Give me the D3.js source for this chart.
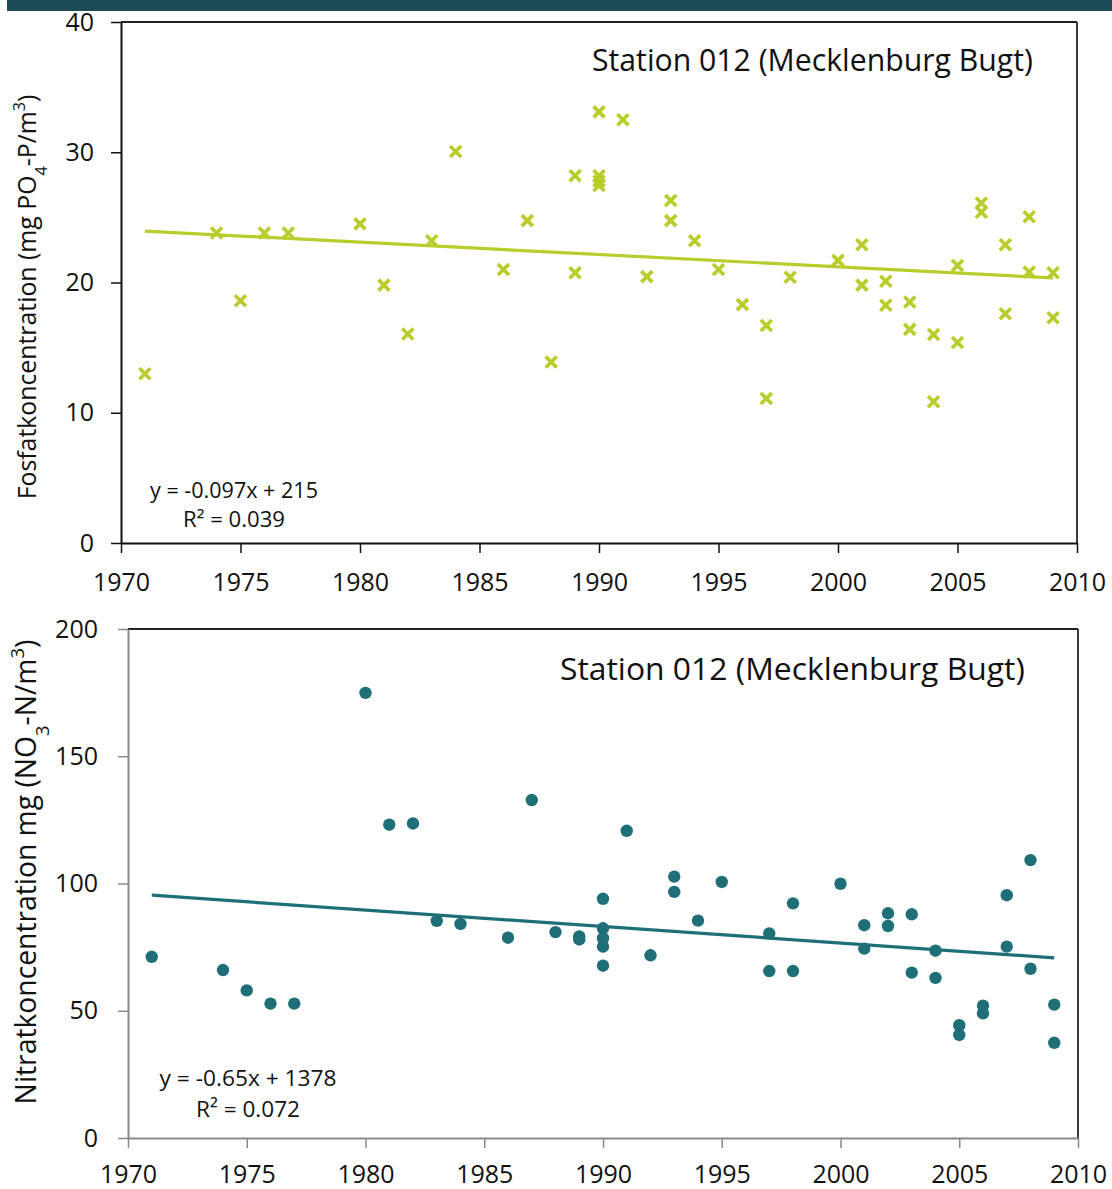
<!DOCTYPE html>
<html><head><meta charset="utf-8">
<script src="https://cdn.jsdelivr.net/npm/d3@7"></script>
<style>
body{margin:0;background:#fff;}
svg{display:block;}
text{font-family:"Open Sans",sans-serif;fill:#111;}
</style>
</head><body>
<svg id="chart" width="1112" height="1189"></svg>
<script>
// ---------- data ----------
const yearTicks = [1970, 1975, 1980, 1985, 1990, 1995, 2000, 2005, 2010];

const phosYears  = [1971,1974,1975,1976,1977,1980,1981,1982,1983,1984,1986,1987,1988,1989,1989,
                    1990,1990,1990,1990,1991,1992,1993,1993,1994,1995,1996,1997,1997,1998,2000,
                    2001,2001,2002,2002,2003,2003,2004,2004,2005,2005,2006,2006,2007,2007,2008,2008,2009,2009];
const phosValues = [13.0,23.8,18.6,23.8,23.8,24.5,19.8,16.05,23.2,30.05,21.0,24.75,13.9,28.2,20.75,
                    33.1,28.2,27.8,27.45,32.5,20.45,26.3,24.75,23.2,21.0,18.3,16.7,11.1,20.4,21.7,
                    22.9,19.8,20.1,18.25,18.5,16.4,16.0,10.85,21.3,15.4,26.1,25.4,22.9,17.6,25.05,20.8,20.75,17.3];
const phosTicks = [0, 10, 20, 30, 40];
const phosTrendYears  = [1971, 2009];
const phosTrendValues = [23.95, 20.35];
const phosEquation = ["y = -0.097x + 215", "R² = 0.039"];

const nitYears  = [1971,1974,1975,1976,1977,1980,1981,1982,1983,1984,1986,1987,1988,1989,1989,
                   1990,1990,1990,1990,1990,1991,1992,1993,1993,1994,1995,1997,1997,1998,1998,
                   2000,2001,2001,2002,2002,2003,2003,2004,2004,2005,2005,2006,2006,2007,2007,2008,2008,2009,2009];
const nitValues = [71.2,66.0,58.0,52.8,52.8,174.9,123.1,123.6,85.3,84.1,78.7,132.8,80.9,79.2,78.0,
                   94.0,82.4,78.5,75.2,67.7,120.7,71.8,102.7,96.7,85.4,100.6,80.4,65.6,92.2,65.6,
                   99.9,83.6,74.4,88.3,83.3,87.9,65.0,73.6,62.9,44.3,40.5,52.0,49.0,95.4,75.2,109.2,66.5,52.4,37.4];
const nitTicks = [0, 50, 100, 150, 200];
const nitTrendYears  = [1971, 2009];
const nitTrendValues = [95.4, 70.8];
const nitEquation = ["y = -0.65x + 1378", "R² = 0.072"];

const stationTitle = "Station 012 (Mecklenburg Bugt)";

// ---------- drawing ----------
const svg = d3.select("#chart");

svg.append("rect").attr("x", 7).attr("y", 0).attr("width", 1105).attr("height", 11).attr("fill", "#1e4c56");

function fitWidth(sel, w) {
  const l = sel.node().getComputedTextLength();
  const fs = parseFloat(sel.style("font-size"));
  sel.style("font-size", (fs * w / l) + "px");
}

function panel(cfg) {
  const x = d3.scaleLinear().domain([1970, 2010]).range([cfg.left, cfg.right]);
  const y = d3.scaleLinear().domain([cfg.yTicks[0], cfg.yTicks[cfg.yTicks.length - 1]]).range([cfg.bottom, cfg.top]);
  const g = svg.append("g");

  // frame top / right
  g.append("line").attr("x1", cfg.left).attr("x2", cfg.right).attr("y1", cfg.top).attr("y2", cfg.top)
    .attr("stroke", "#222").attr("stroke-width", 2);
  g.append("line").attr("x1", cfg.right).attr("x2", cfg.right).attr("y1", cfg.top).attr("y2", cfg.bottom)
    .attr("stroke", "#3a3a3a").attr("stroke-width", 2);

  // axes
  const ya = g.append("g").attr("transform", `translate(${cfg.left},0)`)
    .call(d3.axisLeft(y).tickValues(cfg.yTicks).tickSize(10).tickSizeOuter(0).tickPadding(cfg.yPad));
  ya.select(".domain").attr("stroke", cfg.yAxisColor).attr("stroke-width", 2);
  ya.selectAll(".tick line").attr("stroke", cfg.yAxisColor).attr("stroke-width", 1.5);
  ya.selectAll(".tick text").style("font-size", "25px").attr("fill", "#111");

  const xa = g.append("g").attr("transform", `translate(0,${cfg.bottom})`)
    .call(d3.axisBottom(x).tickValues(yearTicks).tickFormat(d3.format("d")).tickSize(10).tickSizeOuter(0).tickPadding(cfg.xPad));
  xa.select(".domain").attr("stroke", cfg.xAxisColor).attr("stroke-width", 2);
  xa.selectAll(".tick line").attr("stroke", cfg.xAxisColor).attr("stroke-width", 1.5);
  xa.selectAll(".tick text").style("font-size", "25px").attr("fill", "#111");

  // trend line
  const trend = cfg.trendYears.map((yr, i) => [yr, cfg.trendValues[i]]);
  g.append("path").datum(trend)
    .attr("d", d3.line().x(d => x(d[0])).y(d => y(d[1])))
    .attr("stroke", cfg.color).attr("stroke-width", 3.2).attr("fill", "none");

  // points
  const pts = cfg.years.map((yr, i) => [yr, cfg.values[i]]);
  if (cfg.marker === "x") {
    g.selectAll(".pt").data(pts).join("path")
      .attr("transform", d => `translate(${x(d[0])},${y(d[1])})`)
      .attr("d", "M-5.5,-5.5L5.5,5.5M5.5,-5.5L-5.5,5.5")
      .attr("stroke", cfg.color).attr("stroke-width", 3.6).attr("fill", "none");
  } else {
    g.selectAll(".pt").data(pts).join("circle")
      .attr("cx", d => x(d[0])).attr("cy", d => y(d[1])).attr("r", 6.2)
      .attr("fill", cfg.color);
  }

  // station title
  const t = g.append("text").attr("x", cfg.titleX).attr("y", cfg.titleY)
    .style("font-size", "30px").text(stationTitle);
  fitWidth(t, cfg.titleW);

  // equation
  cfg.equation.forEach((s, i) => {
    const e = g.append("text").attr("x", cfg.eqX).attr("y", cfg.eqY[i])
      .attr("text-anchor", "middle").style("font-size", "19px").text(s);
    fitWidth(e, cfg.eqW[i]);
  });

  // y axis title
  const yt = g.append("text").attr("transform", `translate(${cfg.yTitleX},${cfg.yTitleY}) rotate(-90)`)
    .attr("text-anchor", "middle").style("font-size", "24px");
  cfg.yTitle.forEach(p => {
    const ts = yt.append("tspan").text(p.t);
    if (p.sub) ts.attr("baseline-shift", "sub").style("font-size", "65%");
    if (p.sup) ts.attr("baseline-shift", "super").style("font-size", "65%");
  });
  fitWidth(yt, cfg.yTitleW);
}

panel({
  left: 121, right: 1077, top: 22, bottom: 543,
  yTicks: phosTicks, yPad: 17, xPad: 20, yAxisColor: "#111", xAxisColor: "#111",
  years: phosYears, values: phosValues, trendYears: phosTrendYears, trendValues: phosTrendValues,
  color: "#bacb2c", marker: "x",
  titleX: 592, titleY: 71, titleW: 441,
  equation: phosEquation, eqX: 234, eqY: [498, 527], eqW: [168, 102],
  yTitleX: 36, yTitleY: 297, yTitleW: 405,
  yTitle: [{t: "Fosfatkoncentration (mg PO"}, {t: "4", sub: true}, {t: "-P/m"}, {t: "3", sup: true}, {t: ")"}]
});

panel({
  left: 128, right: 1078, top: 629, bottom: 1138,
  yTicks: nitTicks, yPad: 20, xPad: 17, yAxisColor: "#8a8a8a", xAxisColor: "#8a8a8a",
  years: nitYears, values: nitValues, trendYears: nitTrendYears, trendValues: nitTrendValues,
  color: "#1f6f78", marker: "dot",
  titleX: 560, titleY: 680, titleW: 465,
  equation: nitEquation, eqX: 248, eqY: [1086, 1117], eqW: [177, 104],
  yTitleX: 36, yTitleY: 872, yTitleW: 465,
  yTitle: [{t: "Nitratkoncentration mg (NO"}, {t: "3", sub: true}, {t: "-N/m"}, {t: "3", sup: true}, {t: ")"}]
});
</script>
</body></html>
